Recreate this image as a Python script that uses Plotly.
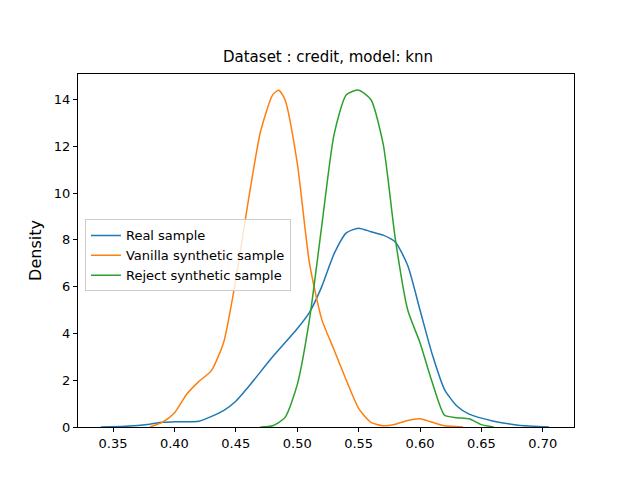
import plotly.graph_objects as go

real_x = [0.34, 0.36, 0.38, 0.39, 0.40, 0.42, 0.44, 0.45, 0.46, 0.48, 0.50, 0.51, 0.52, 0.53, 0.54, 0.55, 0.56, 0.57, 0.58, 0.59, 0.60, 0.61, 0.62, 0.63, 0.64, 0.66, 0.68, 0.705]
real_y = [0.0, 0.03, 0.12, 0.2, 0.22, 0.25, 0.7, 1.1, 1.7, 3.0, 4.2, 4.9, 6.0, 7.4, 8.3, 8.5, 8.35, 8.2, 7.9, 6.9, 5.0, 3.1, 1.6, 0.9, 0.55, 0.25, 0.08, 0.0]

van_x = [0.38, 0.39, 0.40, 0.41, 0.42, 0.43, 0.44, 0.45, 0.46, 0.47, 0.48, 0.485, 0.49, 0.50, 0.51, 0.52, 0.53, 0.54, 0.55, 0.56, 0.57, 0.58, 0.59, 0.60, 0.61, 0.62, 0.635]
van_y = [0.0, 0.2, 0.6, 1.4, 1.95, 2.4, 3.6, 6.3, 9.6, 12.6, 14.2, 14.4, 14.0, 11.3, 7.0, 4.6, 3.3, 2.0, 0.8, 0.2, 0.05, 0.12, 0.28, 0.35, 0.2, 0.05, 0.0]

rej_x = [0.47, 0.48, 0.49, 0.50, 0.51, 0.52, 0.53, 0.54, 0.55, 0.56, 0.57, 0.58, 0.59, 0.60, 0.61, 0.62, 0.63, 0.64, 0.65, 0.66]
rej_y = [0.0, 0.05, 0.4, 1.8, 4.6, 8.6, 12.5, 14.2, 14.4, 14.0, 12.1, 8.0, 5.0, 3.6, 1.9, 0.5, 0.4, 0.35, 0.1, 0.0]

fig = go.Figure()
for x, y, name, color in [(real_x, real_y, "Real sample", "#1f77b4"),
                          (van_x, van_y, "Vanilla synthetic sample", "#ff7f0e"),
                          (rej_x, rej_y, "Reject synthetic sample", "#2ca02c")]:
    fig.add_trace(go.Scatter(x=x, y=y, mode="lines", name=name,
                             line=dict(color=color, width=1.5, shape="spline", smoothing=0.6)))

axis = dict(showgrid=False, zeroline=False, showline=True, linecolor="black", mirror=True,
            ticks="outside", ticklen=4, tickcolor="black")
fig.update_layout(
    width=640, height=480, paper_bgcolor="white", plot_bgcolor="white",
    font=dict(family="DejaVu Sans", size=13, color="black"),
    title=dict(text="Dataset : credit, model: knn", x=0.5, xanchor="center", y=0.91, font=dict(size=15)),
    margin=dict(l=70, r=74, t=66, b=61),
    xaxis=dict(axis, range=[0.3215, 0.7254], tickvals=[0.35, 0.40, 0.45, 0.50, 0.55, 0.60, 0.65, 0.70], tickformat=".2f"),
    yaxis=dict(axis, range=[0, 15.09], tickvals=[0, 2, 4, 6, 8, 10, 12, 14], title=dict(text="Density", standoff=8)),
    legend=dict(x=0.014, y=0.588, xanchor="left", yanchor="top", bordercolor="#cccccc", borderwidth=1,
                bgcolor="rgba(255,255,255,0.8)", font=dict(size=13)),
)
fig.write_html("out.html")
